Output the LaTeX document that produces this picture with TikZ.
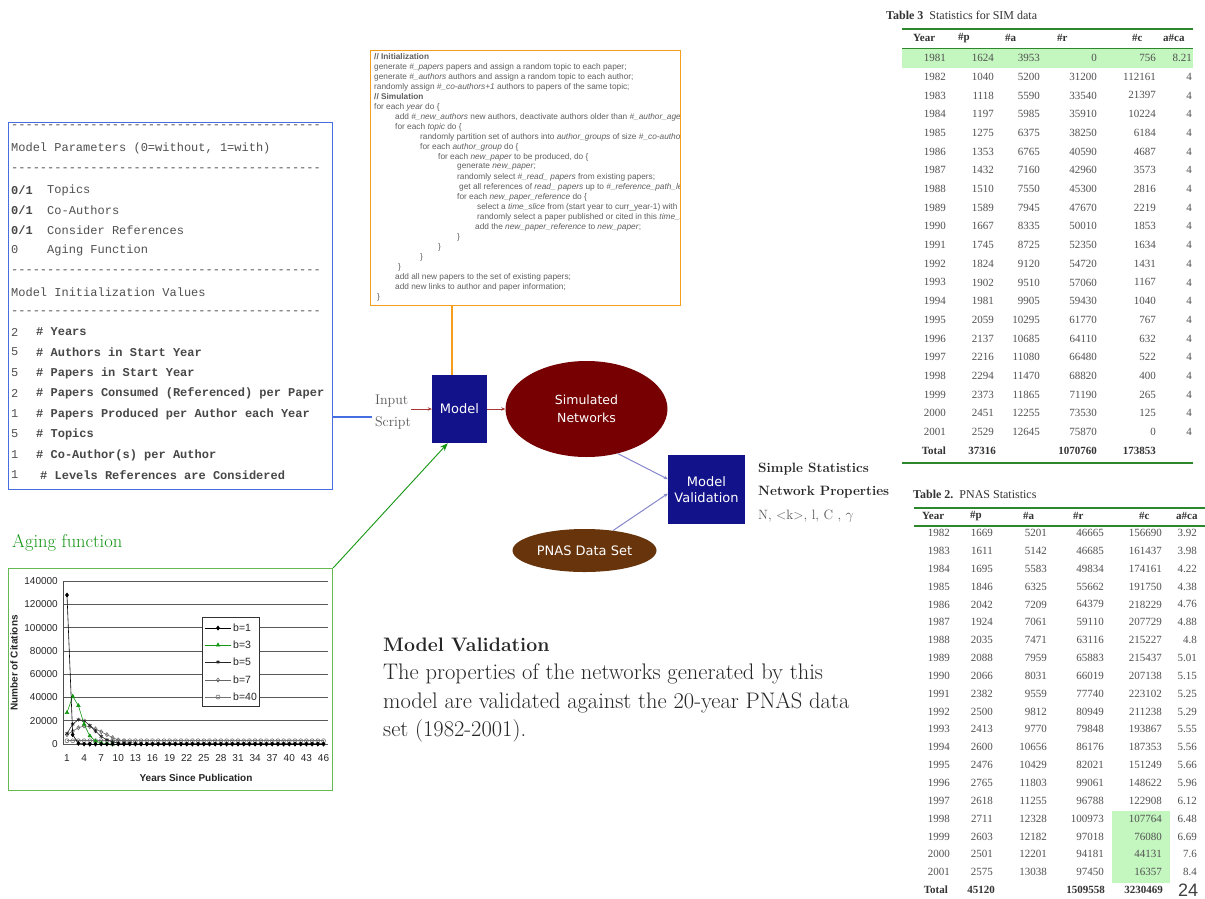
\documentclass[tikz,border=0pt]{standalone}
\usepackage{fontspec}
\usetikzlibrary{arrows.meta,shapes.geometric,plotmarks}
\newfontfamily\monof{Liberation Mono}
\newfontfamily\verd{DejaVu Sans}
\newfontfamily\arialf{Liberation Sans}
\newfontfamily\timesf{Liberation Serif}
\definecolor{navyc}{RGB}{18,18,138}
\definecolor{maroonc}{RGB}{118,0,2}
\definecolor{pbrown}{RGB}{104,52,12}
\definecolor{orng}{RGB}{245,158,30}
\definecolor{bblue}{RGB}{70,110,225}
\definecolor{agreen}{RGB}{20,150,20}
\definecolor{cgreen}{RGB}{100,185,80}
\definecolor{lav}{RGB}{135,135,205}
\definecolor{rarr}{RGB}{170,55,55}
\definecolor{tgreen}{RGB}{45,135,45}
\definecolor{hl}{RGB}{196,246,192}
\definecolor{tgray}{RGB}{80,80,80}
\definecolor{cgray}{RGB}{95,95,95}
\definecolor{dgray}{RGB}{90,90,90}
\newcommand\codeln[4]{\node[codel] (#1) at (#2,#3) {#4};}
\begin{document}
\begin{tikzpicture}[x=1pt,y=-1pt,
 monot/.style={anchor=west,inner sep=0,font=\monof\fontsize{12}{14}\selectfont,text=tgray},
 monob/.style={anchor=west,inner sep=0,font=\monof\bfseries\fontsize{12}{14}\selectfont,text=black!72},
 codel/.style={anchor=west,inner sep=0,font=\arialf\fontsize{8.3}{9}\selectfont,text=cgray},
 tcell/.style={anchor=east,inner sep=0,font=\timesf\fontsize{11}{12}\selectfont,text=tgray},
 tcellb/.style={anchor=east,inner sep=0,font=\timesf\bfseries\fontsize{11}{12}\selectfont,text=black!80},
 thead/.style={anchor=west,inner sep=0,font=\timesf\bfseries\fontsize{11}{12}\selectfont,text=black!80},
 ttitle/.style={anchor=west,inner sep=0,font=\timesf\fontsize{12}{14}\selectfont,text=black!80},
 navybox/.style={rectangle,fill=navyc,text=white,font=\verd\fontsize{13}{16}\selectfont,align=center,inner sep=0},
 redarr/.style={draw=rarr,line width=0.8pt,-{Stealth[length=4pt,width=3.5pt]}},
 lavarr/.style={draw=lav,line width=1pt,-{Stealth[length=4pt,width=3.5pt]}},
 tickl/.style={inner sep=0,font=\arialf\fontsize{10}{12}\selectfont,text=black!85},
 legl/.style={inner sep=0,anchor=west,font=\arialf\fontsize{10.5}{12}\selectfont,text=black!85},
 axtitle/.style={inner sep=0,font=\arialf\bfseries\fontsize{10}{12}\selectfont,text=black!85},
 serifl/.style={anchor=base west,inner sep=0,font=\fontsize{22.5}{26}\selectfont,text=black!85},
 statl/.style={anchor=base west,inner sep=0,font=\bfseries\fontsize{13.5}{16}\selectfont,text=black!85},
 ser/.style={line width=0.6pt,mark size=2pt},
 sA/.style={ser,black,mark=diamond*},
 sB/.style={ser,agreen,mark=triangle*},
 sC/.style={ser,black!85,mark=asterisk},
 sD/.style={ser,black!60,mark=diamond},
 sE/.style={ser,black!55,mark=o},
]
\useasboundingbox (0,0) rectangle (1205,898);
\fill[white] (0,0) rectangle (1205,898);

% ---------------- left parameter box
\node[draw=bblue,line width=1pt,minimum width=324,minimum height=367,anchor=north west,inner sep=0] (lbox) at (8,122) {};
\node[monot] (d1) at (11,127) {-------------------------------------------};
\node[monot] (mp) at (11,148) {Model Parameters (0=without, 1=with)};
\node[monot] (d2) at (11,170) {-------------------------------------------};
\node[monob] (p1n) at (11,190) {0/1};\node[monot] (p1) at (47,190) {Topics};
\node[monob] (p2n) at (11,210) {0/1};\node[monot] (p2) at (47,210) {Co-Authors};
\node[monob] (p3n) at (11,230) {0/1};\node[monot] (p3) at (47,230) {Consider References};
\node[monot] (p4n) at (11,250) {0};\node[monot] (p4) at (47,250) {Aging Function};
\node[monot] (d3) at (11,272) {-------------------------------------------};
\node[monot] (miv) at (11,292) {Model Initialization Values};
\node[monot] (d4) at (11,313) {-------------------------------------------};
\node[monot] (v1n) at (11,332) {2};\node[monob] (v1) at (36,332) {\# Years};
\node[monot] (v2n) at (11,352) {5};\node[monob] (v2) at (36,352) {\# Authors in Start Year};
\node[monot] (v3n) at (11,373) {5};\node[monob] (v3) at (36,373) {\# Papers in Start Year};
\node[monot] (v4n) at (11,393) {2};\node[monob] (v4) at (36,393) {\# Papers Consumed (Referenced) per Paper};
\node[monot] (v5n) at (11,414) {1};\node[monob] (v5) at (36,414) {\# Papers Produced per Author each Year};
\node[monot] (v6n) at (11,434) {5};\node[monob] (v6) at (36,434) {\# Topics};
\node[monot] (v7n) at (11,455) {1};\node[monob] (v7) at (36,455) {\# Co-Author(s) per Author};
\node[monot] (v8n) at (11,475) {1};\node[monob] (v8) at (40,475) {\# Levels References are Considered};

% ---------------- code box
\node[draw=orng,line width=1.3pt,minimum width=310,minimum height=255,anchor=north west,inner sep=0] (code) at (370,50) {};
\begin{scope}
\clip (371,51) rectangle (679,304);
\codeln{c0}{374}{57}{\textbf{// Initialization}}
\codeln{c1}{374}{67}{generate \textit{\#\_papers} papers and assign a random topic to each paper;}
\codeln{c2}{374}{77}{generate \textit{\#\_authors} authors and assign a random topic to each author;}
\codeln{c3}{374}{87}{randomly assign \textit{\#\_co-authors+1} authors to papers of the same topic;}
\codeln{c4}{374}{97}{\textbf{// Simulation}}
\codeln{c5}{374}{107}{for each \textit{year} do \{}
\codeln{c6}{395}{117}{add \textit{\#\_new\_authors} new authors, deactivate authors older than \textit{\#\_author\_age};}
\codeln{c7}{395}{127}{for each \textit{topic} do \{}
\codeln{c8}{420}{137}{randomly partition set of authors into \textit{author\_groups} of size \textit{\#\_co-authors+1};}
\codeln{c9}{420}{147}{for each \textit{author\_group} do \{}
\codeln{c10}{438}{157}{for each \textit{new\_paper} to be produced, do \{}
\codeln{c11}{457}{167}{generate \textit{new\_paper};}
\codeln{c12}{457}{177}{randomly select \textit{\#\_read\_ papers} from existing papers;}
\codeln{c13}{459}{187}{get all references of \textit{read\_ papers} up to \textit{\#\_reference\_path\_length};}
\codeln{c14}{457}{197}{for each \textit{new\_paper\_reference} do \{}
\codeln{c15}{477}{207}{select a \textit{time\_slice} from (start year to curr\_year-1) with probability given in \textit{aging\_function};}
\codeln{c16}{477}{217}{randomly select a paper published or cited in this \textit{time\_slice} as a \textit{new\_paper\_reference};}
\codeln{c17}{475}{227}{add the \textit{new\_paper\_reference} to \textit{new\_paper};}
\codeln{c18}{457}{237}{\}}
\codeln{c19}{438}{247}{\}}
\codeln{c20}{420}{257}{\}}
\codeln{c21}{398}{267}{\}}
\codeln{c22}{395}{277}{add all new papers to the set of existing papers;}
\codeln{c23}{395}{287}{add new links to author and paper information;}
\codeln{c24}{377}{297}{\}}
\end{scope}

% ---------------- flow diagram
\node[navybox,minimum width=55,minimum height=68] (model) at (459.5,409) {Model};
\node[ellipse,fill=maroonc,minimum width=162,minimum height=96,inner sep=0,text=white,align=center,font=\verd\fontsize{12.5}{18}\selectfont] (sim) at (586.5,409) {Simulated\\Networks};
\node[navybox,minimum width=77,minimum height=69] (val) at (706.5,489.5) {Model\\Validation};
\node[ellipse,fill=pbrown,minimum width=144,minimum height=43,inner sep=0,text=white,font=\verd\fontsize{13}{16}\selectfont] (pnas) at (584.5,550.5) {PNAS Data Set};
\node[inner sep=0,align=left,font=\fontsize{14}{22}\selectfont,text=dgray] (input) at (393,412) {Input\\Script};

\coordinate (by) at (0,417);
\coordinate (bx) at (372,0);
\coordinate (ox) at (452,0);
\draw[bblue,line width=1.1pt] (lbox.east |- by) -- (bx |- by);
\draw[orng,line width=1.5pt] (code.south -| ox) -- (model.north -| ox);
\draw[redarr] (input.east |- model.west) -- (model.west);
\draw[redarr] (model.east) -- (sim.west);
\draw[lavarr] (sim.-55) -- (val.165);
\draw[lavarr] (pnas.35) -- (val.186);

\node[statl] (ss) at (758,472) {Simple Statistics};
\node[statl] (np) at (758,495) {Network Properties};
\node[anchor=base west,inner sep=0,font=\fontsize{13.5}{16}\selectfont,text=dgray] (nk) at (758,519) {N, <k>, l, C , $\gamma$};

% ---------------- model validation text
\node[serifl,font=\bfseries\fontsize{19.5}{24}\selectfont] (mvh) at (383,651) {Model Validation};
\node[serifl] (mv1) at (383,679) {The properties of the networks generated by this};
\node[serifl] (mv2) at (383,708) {model are validated against the 20-year PNAS data};
\node[serifl] (mv3) at (383,736) {set (1982-2001).};

% ---------------- aging function chart
\node[anchor=base west,inner sep=0,font=\fontsize{18.5}{20}\selectfont,text=agreen] (agt) at (12,547) {Aging function};
\node[draw=cgreen,line width=1.1pt,fill=white,minimum width=324,minimum height=222,anchor=north west,inner sep=0] (chart) at (8,568) {};
\draw[agreen,line width=0.9pt,-{Stealth[length=8pt,width=6pt]}] (chart.north east) -- (model.-109);

\foreach \k in {0,...,7}{
  \draw[black!65,line width=0.6pt] (63,{744-\k*23.29}) -- (328,{744-\k*23.29});
}
\foreach \lab [count=\k from 0] in {0,20000,40000,60000,80000,100000,120000,140000}{
  \node[tickl,anchor=east] (yl\k) at (58,{744-\k*23.29}) {\lab};
}
\draw[black!70,line width=0.6pt] (63,581) -- (63,744);
\foreach \n [count=\j] in {1,4,...,46}{
  \node[tickl,anchor=north] (xl\j) at ({67+(\n-1)*5.7},754) {\n};
}
\node[axtitle] (xt) at (196,778) {Years Since Publication};
\node[axtitle,rotate=90] (yt) at (14,663) {Number of Citations};

\begin{scope}[shift={(67,744)},x=5.7pt,y=1.164pt]
 \draw[sE] plot[domain=0:45,samples=46] (\x,{2.8});
 \draw[sD] plot coordinates {(0,8)(1,11)(2,14)(3,15.5)(4,15)(5,13)(6,10.5)(7,8)(8,5.5)(9,3.5)(10,2.2)(11,1.3)(12,0.7)(13,0.4)};
 \draw[sD] plot[domain=14:45,samples=32] (\x,0.2);
 \draw[sC] plot coordinates {(0,9)(1,17)(2,21)(3,20)(4,16)(5,11)(6,6.5)(7,3.5)(8,1.8)(9,0.8)(10,0.4)(11,0.2)};
 \draw[sC] plot[domain=12:45,samples=34] (\x,0.1);
 \draw[sB] plot coordinates {(0,27)(1,41)(2,33)(3,17)(4,7)(5,2.5)(6,0.8)(7,0.3)(8,0)};
 \draw[sA] plot coordinates {(0,128)(1,8)(2,0.5)(3,0)(4,0)};
 \draw[sA] plot[domain=4:45,samples=42] (\x,0);
\end{scope}

\node[draw=black!80,fill=white,line width=0.6pt,minimum width=57,minimum height=89,anchor=north west,inner sep=0] (leg) at (202,617) {};
\foreach \yy/\j in {628/1,645/2,662/3,680/4,697/5}{
  \coordinate (la\j) at (205,\yy);
  \coordinate (lb\j) at (231,\yy);
}
\draw[line width=0.6pt,black] (la1) -- (lb1);
\draw[sA] plot coordinates {(218,628)};
\node[legl] (lg1) at (233,628) {b=1};
\draw[line width=0.6pt,agreen] (la2) -- (lb2);
\draw[sB] plot coordinates {(218,645)};
\node[legl] (lg2) at (233,645) {b=3};
\draw[line width=0.6pt,black!85] (la3) -- (lb3);
\draw[sC] plot coordinates {(218,662)};
\node[legl] (lg3) at (233,662) {b=5};
\draw[line width=0.6pt,black!60] (la4) -- (lb4);
\draw[sD] plot coordinates {(218,680)};
\node[legl] (lg4) at (233,680) {b=7};
\draw[line width=0.6pt,black!55] (la5) -- (lb5);
\draw[sE] plot coordinates {(218,697)};
\node[legl] (lg5) at (233,697) {b=40};

% ---------------- Table 3
\node[ttitle] (t3t) at (886,15) {\textbf{Table 3}\enspace Statistics for SIM data};
\fill[hl] (902,49) rectangle (1193,68);
\draw[tgreen,line width=2.5pt] (902,29) -- (1193,29);
\draw[tgreen,line width=0.9pt] (902,48.5) -- (1193,48.5);
\draw[tgreen,line width=2.5pt] (902,463) -- (1193,463);
\node[thead] (h3a) at (913,38) {Year};
\node[thead] (h3b) at (958,38) {\#p};
\node[thead] (h3c) at (1005,38) {\#a};
\node[thead] (h3d) at (1057,38) {\#r};
\node[thead] (h3e) at (1132,38) {\#c};
\node[thead] (h3f) at (1163,38) {a\#ca};
\foreach \vy/\vp/\va/\vr/\vc/\vq [count=\i from 0] in {
 1981/1624/3953/0/756/8.21, 1982/1040/5200/31200/112161/4, 1983/1118/5590/33540/21397/4,
 1984/1197/5985/35910/10224/4, 1985/1275/6375/38250/6184/4, 1986/1353/6765/40590/4687/4,
 1987/1432/7160/42960/3573/4, 1988/1510/7550/45300/2816/4, 1989/1589/7945/47670/2219/4,
 1990/1667/8335/50010/1853/4, 1991/1745/8725/52350/1634/4, 1992/1824/9120/54720/1431/4,
 1993/1902/9510/57060/1167/4, 1994/1981/9905/59430/1040/4, 1995/2059/10295/61770/767/4,
 1996/2137/10685/64110/632/4, 1997/2216/11080/66480/522/4, 1998/2294/11470/68820/400/4,
 1999/2373/11865/71190/265/4, 2000/2451/12255/73530/125/4, 2001/2529/12645/75870/0/4}{
  \pgfmathsetmacro\yy{58+\i*18.7}
  \node[tcell] (tc\i a) at (946,\yy) {\vy};
  \node[tcell] (tc\i b) at (994,\yy) {\vp};
  \node[tcell] (tc\i c) at (1040,\yy) {\va};
  \node[tcell] (tc\i d) at (1097,\yy) {\vr};
  \node[tcell] (tc\i e) at (1156,\yy) {\vc};
  \node[tcell] (tc\i f) at (1192,\yy) {\vq};
}
\node[tcellb] (t3ta) at (946,451) {Total};
\node[tcellb] (t3tb) at (996,451) {37316};
\node[tcellb] (t3td) at (1097,451) {1070760};
\node[tcellb] (t3te) at (1156,451) {173853};

% ---------------- Table 2
\node[ttitle] (t2t) at (913,494) {\textbf{Table 2.}\enspace PNAS Statistics};
\fill[hl] (1112,811) rectangle (1170,883);
\draw[tgreen,line width=2.5pt] (914,508) -- (1205,508);
\draw[tgreen,line width=1.5pt] (914,526) -- (1205,526);
\node[thead] (h2a) at (922,516) {Year};
\node[thead] (h2b) at (970,516) {\#p};
\node[thead] (h2c) at (1023,516) {\#a};
\node[thead] (h2d) at (1073,516) {\#r};
\node[thead] (h2e) at (1139,516) {\#c};
\node[thead] (h2f) at (1176,516) {a\#ca};
\foreach \vy/\vp/\va/\vr/\vc/\vq [count=\i from 0] in {
 1982/1669/5201/46665/156690/3.92, 1983/1611/5142/46685/161437/3.98, 1984/1695/5583/49834/174161/4.22,
 1985/1846/6325/55662/191750/4.38, 1986/2042/7209/64379/218229/4.76, 1987/1924/7061/59110/207729/4.88,
 1988/2035/7471/63116/215227/4.8, 1989/2088/7959/65883/215437/5.01, 1990/2066/8031/66019/207138/5.15,
 1991/2382/9559/77740/223102/5.25, 1992/2500/9812/80949/211238/5.29, 1993/2413/9770/79848/193867/5.55,
 1994/2600/10656/86176/187353/5.56, 1995/2476/10429/82021/151249/5.66, 1996/2765/11803/99061/148622/5.96,
 1997/2618/11255/96788/122908/6.12, 1998/2711/12328/100973/107764/6.48, 1999/2603/12182/97018/76080/6.69,
 2000/2501/12201/94181/44131/7.6, 2001/2575/13038/97450/16357/8.4}{
  \pgfmathsetmacro\yy{533+\i*17.85}
  \node[tcell] (td\i a) at (950,\yy) {\vy};
  \node[tcell] (td\i b) at (993,\yy) {\vp};
  \node[tcell] (td\i c) at (1047,\yy) {\va};
  \node[tcell] (td\i d) at (1104,\yy) {\vr};
  \node[tcell] (td\i e) at (1162,\yy) {\vc};
  \node[tcell] (td\i f) at (1197,\yy) {\vq};
}
\node[tcellb] (t2ta) at (948,890) {Total};
\node[tcellb] (t2tb) at (995,890) {45120};
\node[tcellb] (t2td) at (1105,890) {1509558};
\node[tcellb] (t2te) at (1163,890) {3230469};

\node[inner sep=0,font=\arialf\fontsize{18}{20}\selectfont,text=black!75] (pg) at (1188,890) {24};
\end{tikzpicture}
\end{document}
